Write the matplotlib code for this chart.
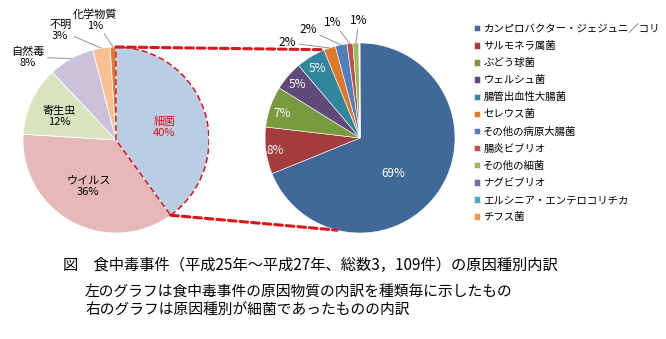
import numpy as np
import matplotlib
matplotlib.use("Agg")
import matplotlib.pyplot as plt
from matplotlib.patches import ConnectionPatch, Wedge

plt.rcParams['font.family'] = ['Noto Sans CJK JP', 'DejaVu Sans']

# 原因種別（%）
causes = ['細菌', 'ウイルス', '寄生虫', '自然毒', '不明', '化学物質']
cause_pct = [40, 36, 12, 8, 3, 1]
cause_colors = ['#b9cde5', '#e6b9b8', '#d7e4bd', '#ccc1da', '#fac090', '#dd7a33']

# 細菌の内訳（%）
bacteria = ['カンピロバクター・ジェジュニ／コリ', 'サルモネラ属菌', 'ぶどう球菌', 'ウェルシュ菌',
            '腸管出血性大腸菌', 'セレウス菌', 'その他の病原大腸菌', '腸炎ビブリオ',
            'その他の細菌', 'ナグビブリオ', 'エルシニア・エンテロコリチカ', 'チフス菌']
bacteria_pct = [69, 8, 7, 5, 5, 2, 2, 1, 1, 0.1, 0.05, 0.05]
bacteria_colors = ['#40699a', '#a43d3b', '#7a9a3f', '#604a7b', '#31859c', '#e0782a',
                   '#4f81bd', '#c0504d', '#9bbb59', '#8064a2', '#4bacc6', '#f79646']

title = '図　食中毒事件（平成25年～平成27年、総数3，109件）の原因種別内訳'
notes = ['左のグラフは食中毒事件の原因物質の内訳を種類毎に示したもの',
         '右のグラフは原因種別が細菌であったものの内訳']

RED = '#d9161c'
GRAY = '#808080'

fig = plt.figure(figsize=(6.66, 3.39), dpi=100)
ax1 = fig.add_axes([0.0345, 0.3127, 0.2793, 0.5487])
ax2 = fig.add_axes([0.3979, 0.3127, 0.2853, 0.5605])

w1, _ = ax1.pie(cause_pct, colors=cause_colors, startangle=90, counterclock=False,
                wedgeprops=dict(edgecolor='white', linewidth=0.6))
w2, _ = ax2.pie(bacteria_pct, colors=bacteria_colors, startangle=90, counterclock=False,
                wedgeprops=dict(edgecolor='white', linewidth=0.4))
for ax in (ax1, ax2):
    ax.set_xlim(-1, 1)
    ax.set_ylim(-1, 1)
    ax.set_aspect('equal')
    ax.axis('off')

# dashed outline around the 細菌 slice
b = w1[0]
ax1.add_patch(Wedge((0, 0), 1, b.theta1, b.theta2, fill=False, edgecolor=RED,
                    linewidth=1.1, linestyle=(0, (4, 2)), zorder=5))


def mid(w):
    return (w.theta1 + w.theta2) / 2


def polar(r, deg):
    a = np.deg2rad(deg)
    return r * np.cos(a), r * np.sin(a)


# left pie labels: radius factor and angle shift from the slice middle
left_r = [0.54, 0.58, 0.66, 1.30, 1.32, 1.31]
left_da = [-3, -2, 3, 18, 18, 8]
for i, w in enumerate(w1):
    txt = f'{causes[i]}\n{cause_pct[i]}%'
    pos = polar(left_r[i], mid(w) + left_da[i])
    col = RED if i == 0 else 'black'
    if left_r[i] > 1:
        ax1.annotate(txt, xy=polar(1.0, mid(w)), xytext=pos, ha='center', va='center',
                     fontsize=8, linespacing=1.1, color=col, annotation_clip=False,
                     arrowprops=dict(arrowstyle='-', color=GRAY, lw=0.6,
                                     shrinkA=0, shrinkB=0))
    else:
        ax1.text(*pos, txt, ha='center', va='center', fontsize=8,
                 linespacing=1.1, color=col)

# right pie labels
right_r = [0.51, 0.90, 0.86, 0.87, 0.86, 1.26, 1.26, 1.25, 1.24]
right_da = [-12.5, 1, 2, 0, 0, 18.5, 14, 7, -2]
for i in range(len(right_r)):
    w = w2[i]
    txt = f'{bacteria_pct[i]:.0f}%'
    pos = polar(right_r[i], mid(w) + right_da[i])
    if right_r[i] > 1:
        ax2.annotate(txt, xy=polar(1.0, mid(w)), xytext=pos, ha='center', va='center',
                     fontsize=8.5, color='black', annotation_clip=False,
                     arrowprops=dict(arrowstyle='-', color=GRAY, lw=0.6,
                                     shrinkA=0, shrinkB=0))
    else:
        ax2.text(*pos, txt, ha='center', va='center', fontsize=8.5, color='white')

# dashed connectors between the two pies
for a_left, a_right in ((b.theta2, 111.7), (b.theta1, 256)):
    con = ConnectionPatch(xyA=polar(1.0, a_left), coordsA=ax1.transData,
                          xyB=polar(1.0, a_right), coordsB=ax2.transData,
                          color=RED, linewidth=2.2, linestyle=(0, (2.5, 1.3)), zorder=6)
    fig.add_artist(con)

fig.legend(w2, bacteria, loc='upper left', bbox_to_anchor=(474 / 666, 1 - 24 / 339),
           frameon=False, fontsize=7.5, handlelength=0.55, handleheight=0.55,
           handletextpad=0.35, labelspacing=0.68, borderpad=0, borderaxespad=0)

fig.text(63 / 666, 1 - 265 / 339, title, fontsize=11, va='center')
fig.text(85 / 666, 1 - 293 / 339, notes[0], fontsize=10.6, va='center')
fig.text(85 / 666, 1 - 311 / 339, notes[1], fontsize=10.6, va='center')

fig.savefig('out.png', dpi=100)
